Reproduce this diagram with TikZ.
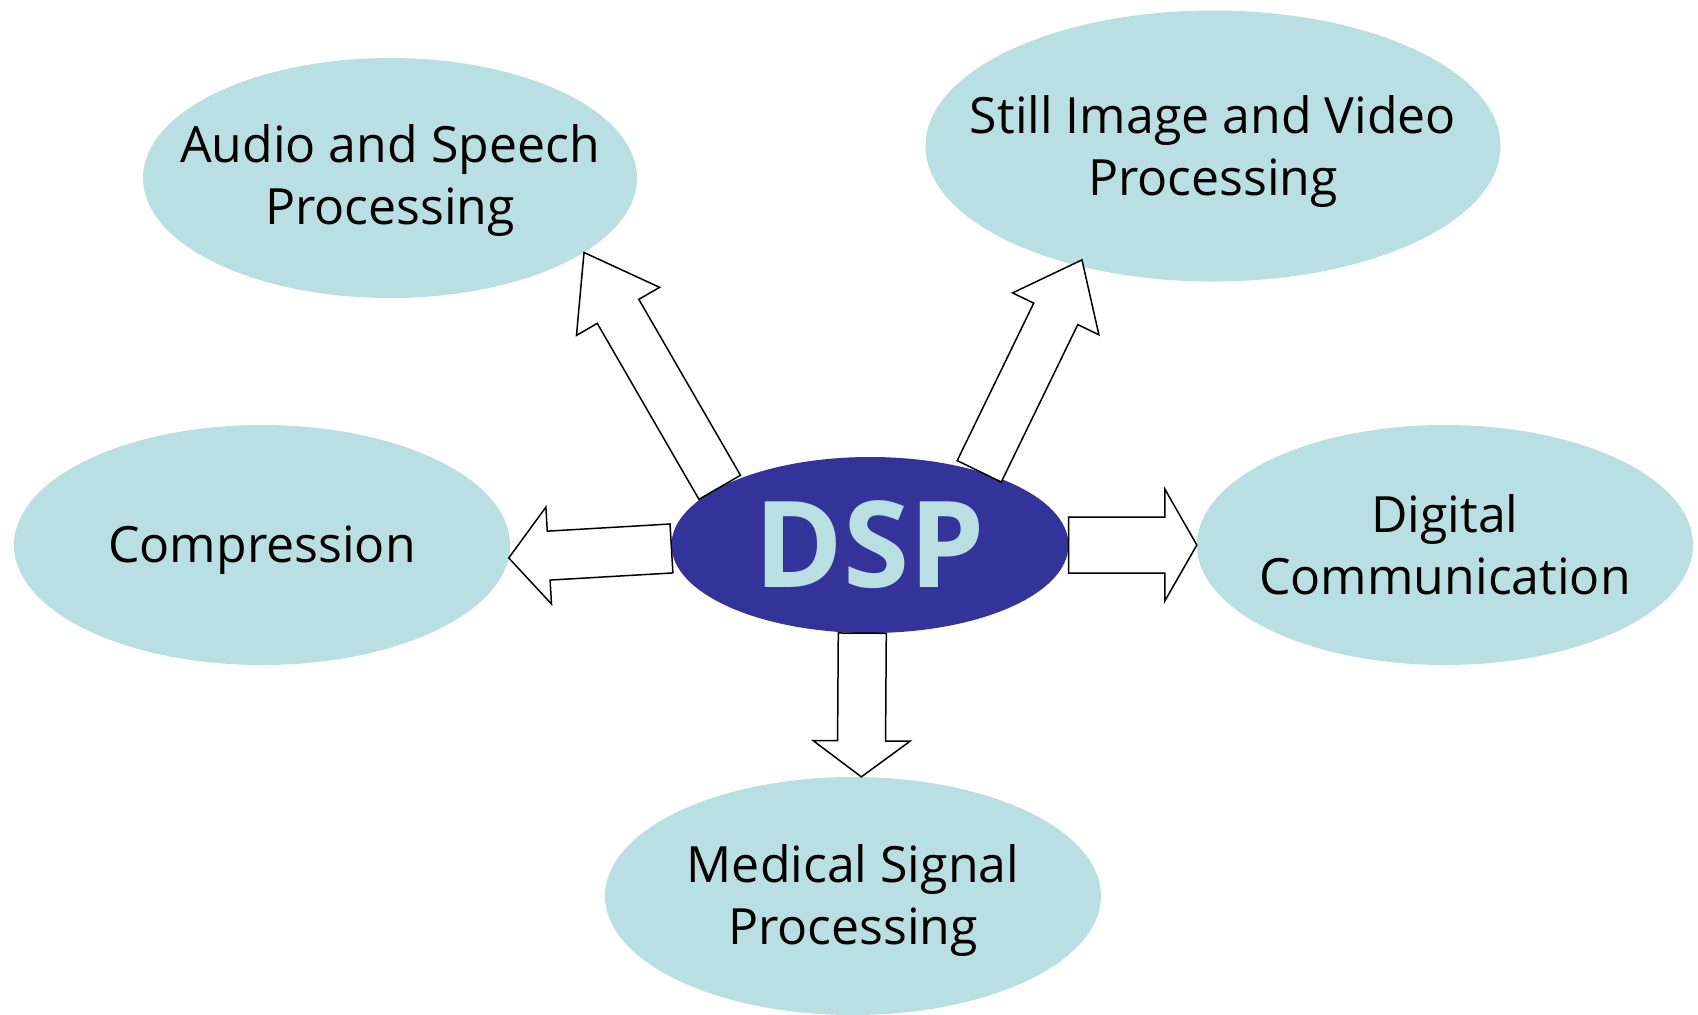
\documentclass[tikz,border=0pt]{standalone}
\usepackage{fontspec}
\setmainfont{Open Sans}
\usetikzlibrary{shapes.geometric, calc}

\definecolor{bubblefill}{RGB}{185,223,227}
\definecolor{dspblue}{RGB}{51,51,153}

% block arrow: from, to, half shaft, half head, head length
\newcommand{\blockarrow}[5]{%
  \coordinate (neck) at ($(#2)!#5!(#1)$);
  \draw[blockarr] ($(#1)!#3!90:(#2)$) -- ($(neck)!#3!90:(#2)$)
    -- ($(neck)!#4!90:(#2)$) -- (#2) -- ($(neck)!#4!-90:(#2)$)
    -- ($(neck)!#3!-90:(#2)$) -- ($(#1)!#3!-90:(#2)$) -- cycle;
}

\begin{document}
\begin{tikzpicture}[x=1pt, y=-1pt,
  bubble/.style={ellipse, fill=bubblefill, inner sep=0pt},
  bubbletext/.style={align=center, font=\fontsize{50}{62}\selectfont},
  blockarr/.style={draw=black, fill=white, line width=1.5pt, line join=miter}
]
  \useasboundingbox (0,0) rectangle (1698,1015);

  % Anwendungen
  \node[bubble, minimum width=494pt, minimum height=240pt] (audio) at (390,178) {};
  \node[bubbletext] (audiotxt) at ([yshift=-3pt]audio) {Audio and Speech\\Processing};
  \node[bubble, minimum width=575pt, minimum height=271pt] (still) at (1213,146) {};
  \node[bubbletext] (stilltxt) at ([yshift=-6pt]still) {Still Image and Video\\Processing};
  \node[bubble, minimum width=496pt, minimum height=240pt] (compr) at (262,545) {};
  \node[bubbletext] (comprtxt) at ([yshift=-5pt]compr) {Compression};
  \node[bubble, minimum width=496pt, minimum height=240pt] (digital) at (1445,545) {};
  \node[bubbletext] (digitaltxt) at (digital) {Digital\\Communication};
  \node[bubble, minimum width=496pt, minimum height=238pt] (medical) at (853,896) {};
  \node[bubbletext] (medicaltxt) at ([yshift=-4pt]medical) {Medical Signal\\Processing};

  % DSP
  \node[ellipse, fill=dspblue, inner sep=0pt, minimum width=397pt, minimum height=176pt] (dsp) at (870,545) {};
  \node[text=bubblefill, font=\fontsize{120}{120}\selectfont\bfseries] (dsptxt) at (dsp) {DSP};

  % Pfeile
  \coordinate (stilltip) at ($(still.center)!0.955!(still.221)$);
  \blockarrow{dsp.159.7}{audio.-21}{24pt}{48pt}{68pt}
  \blockarrow{dsp.34}{stilltip}{24.5pt}{48pt}{60pt}
  \blockarrow{dsp.east}{digital.west}{28pt}{56pt}{32pt}
  \blockarrow{dsp.265}{medical.86}{24pt}{48.5pt}{36pt}
  \blockarrow{dsp.181.6}{compr.-3}{24.5pt}{48.5pt}{40pt}
\end{tikzpicture}
\end{document}
